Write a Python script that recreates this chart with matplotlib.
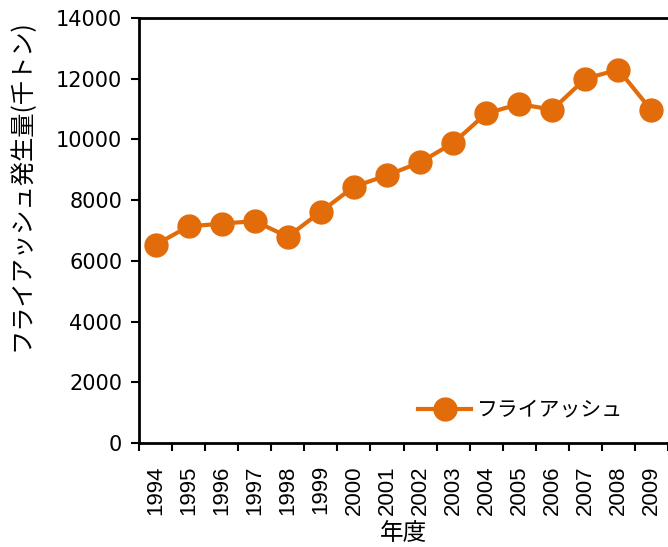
import matplotlib
matplotlib.use("Agg")
import matplotlib.pyplot as plt
from matplotlib.ticker import FixedLocator, NullFormatter

plt.rcParams['font.family'] = ['DejaVu Sans', 'Noto Sans CJK JP']

years = ['1994', '1995', '1996', '1997', '1998', '1999', '2000', '2001',
         '2002', '2003', '2004', '2005', '2006', '2007', '2008', '2009']
fly_ash = [6530, 7135, 7225, 7310, 6795, 7620, 8445, 8815,
           9245, 9880, 10855, 11165, 10980, 12000, 12300, 10955]
y_ticks = [0, 2000, 4000, 6000, 8000, 10000, 12000, 14000]

color = '#E36C0A'
jp = ['Noto Sans CJK JP']

fig = plt.figure(figsize=(6.68, 5.47), dpi=100)
ax = fig.add_axes([139/668, 1 - 443/547, 1 - 139/668, 425/547])

x = list(range(len(years)))
ax.plot(x, fly_ash, color=color, lw=3, marker='o', ms=16.5,
        markeredgecolor=color, label='フライアッシュ')

ax.set_xlim(-0.5, len(years) - 0.5)
ax.set_ylim(0, 14000)

# category boundaries carry the tick marks, labels sit in the middle
ax.xaxis.set_major_locator(FixedLocator([i - 0.5 for i in range(len(years) + 1)]))
ax.xaxis.set_major_formatter(NullFormatter())
ax.set_xticks(x, years, minor=True, rotation=90, fontsize=16,
              family='Liberation Sans')
ax.tick_params(axis='x', which='minor', length=0, pad=16)
ax.tick_params(axis='x', which='major', length=6, width=1.5, direction='out')

ax.set_yticks(y_ticks)
ax.tick_params(axis='y', labelsize=15, length=6, width=1.5, direction='out',
               pad=6)

for side in ['left', 'bottom', 'top']:
    ax.spines[side].set_linewidth(2)
ax.spines['right'].set_visible(False)

ax.set_xlabel('年度', fontsize=17, family=jp)
ax.xaxis.set_label_coords(0.5, -0.186)
ax.set_ylabel('フライアッシュ発生量(千トン)', fontsize=17.5, family=jp)
ax.yaxis.set_label_coords(-0.198, 0.607)

leg = ax.legend(loc='center right', bbox_to_anchor=(0.95, 0.078),
                frameon=False, prop={'family': jp, 'size': 15},
                handlelength=2.55, handletextpad=0.25)

fig.savefig('out.png', dpi=100)
